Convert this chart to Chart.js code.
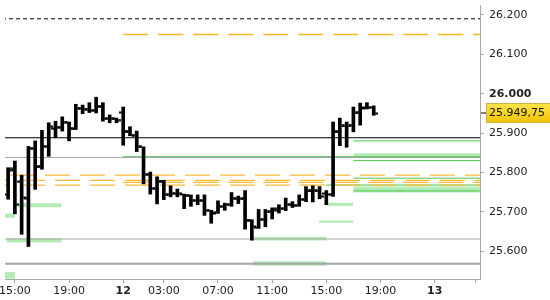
<!DOCTYPE html>
<html>
<head>
<meta charset="utf-8">
<script src="https://cdn.jsdelivr.net/npm/chart.js@4.4.1/dist/chart.umd.min.js"></script>
<style>
  html, body { margin: 0; padding: 0; background: #fff; }
  #wrap { width: 550px; height: 300px; }
</style>
</head>
<body>
<div id="wrap"><canvas id="chart" width="550" height="300"></canvas></div>
<script>
// 30 minute bars, x = bar number (0 = 15:00 on the 11th)
const firstBar = -1;
const opens  = [25744, 25809, 25776, 25735, 25861, 25816, 25866, 25911, 25915, 25928,
                25911, 25963, 25961, 25958, 25968, 25936, 25936, 25952, 25903, 25895,
                25865, 25794, 25760, 25778, 25743, 25747, 25745, 25741, 25729, 25729,
                25704, 25699, 25714, 25718, 25733, 25733, 25679, 25660, 25681, 25700,
                25704, 25708, 25718, 25716, 25731, 25753, 25753, 25746, 25744, 25903,
                25918, 25920, 25951, 25965, 25965];
const highs  = [25812, 25829, 25793, 25866, 25880, 25907, 25926, 25930, 25941, 25928,
                25973, 25971, 25977, 25991, 25977, 25946, 25938, 25966, 25916, 25905,
                25865, 25801, 25789, 25780, 25766, 25758, 25745, 25743, 25743, 25743,
                25704, 25728, 25722, 25749, 25740, 25754, 25680, 25706, 25706, 25710,
                25718, 25735, 25726, 25743, 25764, 25766, 25764, 25754, 25928, 25938,
                25928, 25966, 25976, 25977, 25969];
const lows   = [25732, 25695, 25643, 25612, 25757, 25808, 25841, 25888, 25905, 25880,
                25909, 25949, 25952, 25951, 25930, 25926, 25926, 25869, 25893, 25853,
                25771, 25745, 25720, 25731, 25738, 25738, 25708, 25714, 25718, 25691,
                25671, 25696, 25704, 25714, 25721, 25656, 25628, 25658, 25662, 25682,
                25697, 25703, 25711, 25714, 25726, 25725, 25733, 25718, 25739, 25868,
                25864, 25903, 25920, 25961, 25945];
const closes = [25806, 25718, 25736, 25861, 25814, 25866, 25916, 25915, 25928, 25911,
                25963, 25961, 25957, 25968, 25936, 25936, 25933, 25905, 25895, 25865,
                25796, 25759, 25778, 25743, 25747, 25746, 25741, 25729, 25729, 25704,
                25696, 25714, 25718, 25735, 25733, 25679, 25662, 25681, 25700, 25708,
                25708, 25718, 25716, 25731, 25753, 25753, 25739, 25744, 25903, 25918,
                25918, 25951, 25963, 25965, 25949.75];

// time axis
const tickBars   = [0, 8, 16, 22, 30, 38, 46, 54, 62, 68];
const tickLabels = ["15:00", "19:00", "12", "03:00", "07:00", "11:00", "15:00", "19:00", "13", ""];
const dayTicks   = [16, 62];

// price axis
const priceTicks = [25600, 25700, 25800, 25900, 26000, 26100, 26200];

// horizontal levels (value, first bar, kind); they run to the right edge
const levelValues = [26190, 26150, 25888, 25880, 25838, 25840, 25830, 25793, 25780, 25775,
                     25768, 25785.5, 25768, 25753, 25631, 25568];
const levelFrom   = [-5, 16, -5, 50, -5, 16, 50, -0.73, -4.4, 16,
                     -4.4, 50, 46, 50, -5, -5];
const levelKinds  = ["pivot", "target", "close", "green", "gray", "green", "green", "entry", "entry", "entry",
                     "entry", "green", "green", "green", "gray", "grayBold"];

// light green zones (low, high, first bar, last bar)
const bandLo   = [25836, 25749, 25711.5, 25685, 25622, 25530, 25627, 25563, 25715, 25672];
const bandHi   = [25849, 25764, 25721.5, 25696, 25633, 25547, 25637, 25574.5, 25723, 25678];
const bandFrom = [50, 50, 0.45, -5, -1.2, -5, 35.1, 35.1, 46.15, 44.9];
const bandTo   = [75, 75, 6.9, 0, 6.9, 0, 46.05, 46.05, 50, 50];

const xMin = -1.46, xMax = 68.7;
const yMin = 25529.5, yMax = 26225;

const levelStyles = {
    pivot:    { color: "#000000", width: 1,   dash: [4, 3],   order: 3 },
    target:   { color: "#fbb51e", width: 1.6, dash: [25, 10], order: 2 },
    entry:    { color: "#fbbb35", width: 1.2, dash: [25, 10], order: 2 },
    close:    { color: "#000000", width: 1,   dash: [],       order: 3 },
    gray:     { color: "#a6a6a6", width: 1,   dash: [],       order: 3 },
    grayBold: { color: "#a6a6a6", width: 2,   dash: [],       order: 3 },
    green:    { color: "#4cc84c", width: 1,   dash: [],       order: 4 },
};

function fmtPrice(v, decimals) {
    const whole = Math.floor(v);
    let s = Math.floor(whole / 1000) + "." + String(whole % 1000).padStart(3, "0");
    if (decimals) s += "," + (v - whole).toFixed(decimals).slice(2);
    return s;
}

function tickImage(side) {
    const c = document.createElement("canvas");
    c.width = 9;
    c.height = 3;
    const g = c.getContext("2d");
    g.fillStyle = "#000";
    g.fillRect(side === "left" ? 0 : 6, 0.5, 3, 2);
    return c;
}

const barIdx = opens.map((o, i) => firstBar + i);

const datasets = [];

datasets.push({
    type: "bar",
    data: barIdx.map((b, i) => ({ x: b, y: [lows[i], highs[i]] })),
    backgroundColor: "#000",
    borderWidth: 0,
    barThickness: 3,
    order: 0,
});
datasets.push({
    type: "line",
    data: barIdx.map((b, i) => ({ x: b, y: opens[i] })),
    showLine: false,
    pointStyle: tickImage("left"),
    pointRadius: 3,
    order: 0,
});
datasets.push({
    type: "line",
    data: barIdx.map((b, i) => ({ x: b, y: closes[i] })),
    showLine: false,
    pointStyle: tickImage("right"),
    pointRadius: 3,
    order: 0,
});

levelValues.forEach((v, i) => {
    const st = levelStyles[levelKinds[i]];
    datasets.push({
        type: "line",
        data: [{ x: levelFrom[i], y: v }, { x: 75, y: v }],
        borderColor: st.color,
        borderWidth: st.width,
        borderDash: st.dash,
        borderCapStyle: "butt",
        pointRadius: 0,
        fill: false,
        order: st.order,
    });
});

bandLo.forEach((lo, i) => {
    datasets.push({
        type: "line",
        data: [{ x: bandFrom[i], y: bandHi[i] }, { x: bandTo[i], y: bandHi[i] }],
        borderColor: "transparent",
        borderWidth: 0,
        backgroundColor: "#b6ebb6",
        fill: { value: lo },
        pointRadius: 0,
        order: 6,
    });
});

const priceTag = {
    id: "priceTag",
    afterDraw(chart) {
        const ctx = chart.ctx;
        const last = closes[closes.length - 1];
        const y = Math.round(chart.scales.y.getPixelForValue(last));
        const left = chart.chartArea.right;
        ctx.save();
        ctx.fillStyle = "#000";
        ctx.fillRect(left + 1, y - 0.5, 5, 1);
        const grad = ctx.createLinearGradient(0, y - 10, 0, y + 10);
        grad.addColorStop(0, "#ffe449");
        grad.addColorStop(1, "#f2c300");
        ctx.fillStyle = grad;
        ctx.fillRect(left + 6, y - 10, 64, 20);
        ctx.strokeStyle = "#c9b24a";
        ctx.lineWidth = 1;
        ctx.strokeRect(left + 6.5, y - 9.5, 64, 19);
        ctx.fillStyle = "#111";
        ctx.font = "11px 'DejaVu Sans', Verdana, sans-serif";
        ctx.textBaseline = "middle";
        ctx.fillText(fmtPrice(last, 2), left + 9, y + 0.5);
        ctx.restore();
    },
};

Chart.defaults.font.family = "'DejaVu Sans', Verdana, sans-serif";
Chart.defaults.font.size = 11;

new Chart(document.getElementById("chart"), {
    type: "bar",
    data: { datasets },
    options: {
        responsive: false,
        devicePixelRatio: 1,
        animation: false,
        events: [],
        layout: { padding: 0 },
        plugins: {
            legend: { display: false },
            tooltip: { enabled: false },
        },
        scales: {
            x: {
                type: "linear",
                min: xMin,
                max: xMax,
                offset: false,
                grid: { offset: false, drawOnChartArea: false, drawTicks: true, tickLength: 4, color: "#a9a9a9" },
                border: { display: true, color: "#a9a9a9" },
                afterBuildTicks: (scale) => {
                    scale.ticks = tickBars.map((v) => ({ value: v }));
                },
                afterFit: (scale) => {
                    scale.height = 21;
                    scale.paddingLeft = 0;
                    scale.paddingRight = 0;
                },
                ticks: {
                    autoSkip: false,
                    maxRotation: 0,
                    minRotation: 0,
                    padding: 2,
                    color: "#222",
                    font: (ctx) => ({ weight: ctx.tick && dayTicks.includes(ctx.tick.value) ? "bold" : "normal" }),
                    callback: (value) => tickLabels[tickBars.indexOf(value)],
                },
            },
            y: {
                type: "linear",
                position: "right",
                min: yMin,
                max: yMax,
                grid: { drawOnChartArea: false, drawTicks: true, tickLength: 4, color: "#a9a9a9" },
                border: { display: true, color: "#a9a9a9" },
                afterBuildTicks: (scale) => {
                    scale.ticks = priceTicks.map((v) => ({ value: v }));
                },
                afterFit: (scale) => {
                    scale.width = 70;
                    scale.paddingTop = 0;
                    scale.paddingBottom = 0;
                },
                ticks: {
                    autoSkip: false,
                    padding: 5,
                    color: "#222",
                    font: (ctx) => ({ weight: ctx.tick && ctx.tick.value % 1000 === 0 ? "bold" : "normal" }),
                    callback: (value) => fmtPrice(value, 0),
                },
            },
        },
    },
    plugins: [priceTag],
});
</script>
</body>
</html>
